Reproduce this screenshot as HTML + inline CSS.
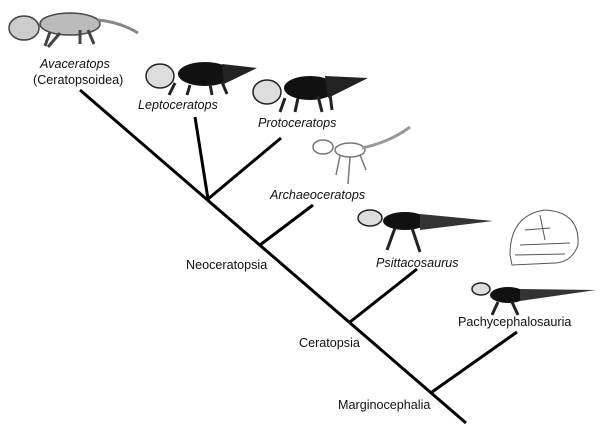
<!DOCTYPE html>
<html><head><style>
html,body{margin:0;padding:0;background:#fff;}
body{width:600px;height:425px;position:relative;overflow:hidden;font-family:"Liberation Sans",sans-serif;}
.t{position:absolute;font-size:12.6px;line-height:16px;color:#111;white-space:nowrap;}
.i{font-style:italic;}
</style></head><body>
<svg width="600" height="425" style="position:absolute;left:0;top:0">
<g stroke="#000" stroke-width="3" fill="none">
<line x1="80" y1="90" x2="466" y2="423"/>
<line x1="195" y1="117" x2="208" y2="199"/>
<line x1="281" y1="138" x2="208" y2="199"/>
<line x1="313" y1="205" x2="260" y2="245"/>
<line x1="417" y1="269" x2="350" y2="322"/>
<line x1="517" y1="332" x2="432" y2="392"/>
</g>
<g stroke="#444" stroke-width="1.5" fill="none">
<ellipse cx="24" cy="28" rx="15" ry="12" fill="#ccc"/>
<ellipse cx="70" cy="24" rx="30" ry="11" fill="#bbb"/>
<path d="M98 20 Q120 22 138 33" stroke-width="3" stroke="#888"/>
<path d="M50 32 L45 46 M60 33 L48 47 M80 30 L80 44 M88 30 L94 44" stroke-width="3"/>
</g>
<g>
<ellipse cx="160" cy="76" rx="14" ry="12" fill="#ddd" stroke="#222" stroke-width="1.5"/>
<ellipse cx="205" cy="74" rx="27" ry="12" fill="#111"/>
<path d="M222 64 L257 68 L224 84Z" fill="#222"/>
<path d="M175 83 L169 95 M190 85 L187 95 M210 84 L212 95 M222 82 L227 94" stroke="#222" stroke-width="3"/>
</g>
<g>
<ellipse cx="267" cy="92" rx="14" ry="12" fill="#ddd" stroke="#222" stroke-width="1.5"/>
<ellipse cx="310" cy="88" rx="26" ry="12" fill="#111"/>
<path d="M325 76 L368 78 L328 98Z" fill="#222"/>
<path d="M285 98 L280 112 M298 98 L295 112 M318 96 L322 112 M330 94 L332 110" stroke="#222" stroke-width="3"/>
</g>
<g stroke="#777" stroke-width="1.5" fill="none">
<ellipse cx="323" cy="147" rx="10" ry="7"/>
<ellipse cx="350" cy="150" rx="15" ry="7"/>
<path d="M362 148 Q390 142 410 127" stroke-width="3" stroke="#999"/>
<path d="M340 156 L336 175 M350 157 L348 184 M360 155 L366 170"/>
</g>
<g>
<ellipse cx="370" cy="218" rx="12" ry="8" fill="#ddd" stroke="#222" stroke-width="1.5"/>
<ellipse cx="405" cy="221" rx="22" ry="9" fill="#111"/>
<path d="M420 214 L493 221 L420 230Z" fill="#333"/>
<path d="M395 228 L387 250 M412 228 L420 252" stroke="#222" stroke-width="3"/>
</g>
<g stroke="#555" stroke-width="1" fill="none">
<path d="M510 255 Q510 215 545 210 Q580 212 578 245 Q572 262 555 263 L512 265Z"/>
<path d="M520 245 L570 243 M525 230 L550 228 M515 255 L565 254 M540 215 L545 240"/>
</g>
<g>
<ellipse cx="481" cy="289" rx="9" ry="6" fill="#ddd" stroke="#222" stroke-width="1.5"/>
<ellipse cx="508" cy="295" rx="18" ry="8" fill="#111"/>
<path d="M520 289 L596 290 L520 301Z" fill="#333"/>
<path d="M498 302 L492 315 M512 302 L518 315" stroke="#222" stroke-width="3"/>
</g>
</svg>
<div class="t i" style="left:40px;top:56px">Avaceratops</div>
<div class="t" style="left:33px;top:72px">(Ceratopsoidea)</div>
<div class="t i" style="left:138px;top:97px">Leptoceratops</div>
<div class="t i" style="left:258px;top:115px">Protoceratops</div>
<div class="t i" style="left:270px;top:187px">Archaeoceratops</div>
<div class="t" style="left:186px;top:257px">Neoceratopsia</div>
<div class="t i" style="left:376px;top:255px">Psittacosaurus</div>
<div class="t" style="left:458px;top:314px">Pachycephalosauria</div>
<div class="t" style="left:299px;top:335px">Ceratopsia</div>
<div class="t" style="left:338px;top:397px">Marginocephalia</div>
</body></html>
